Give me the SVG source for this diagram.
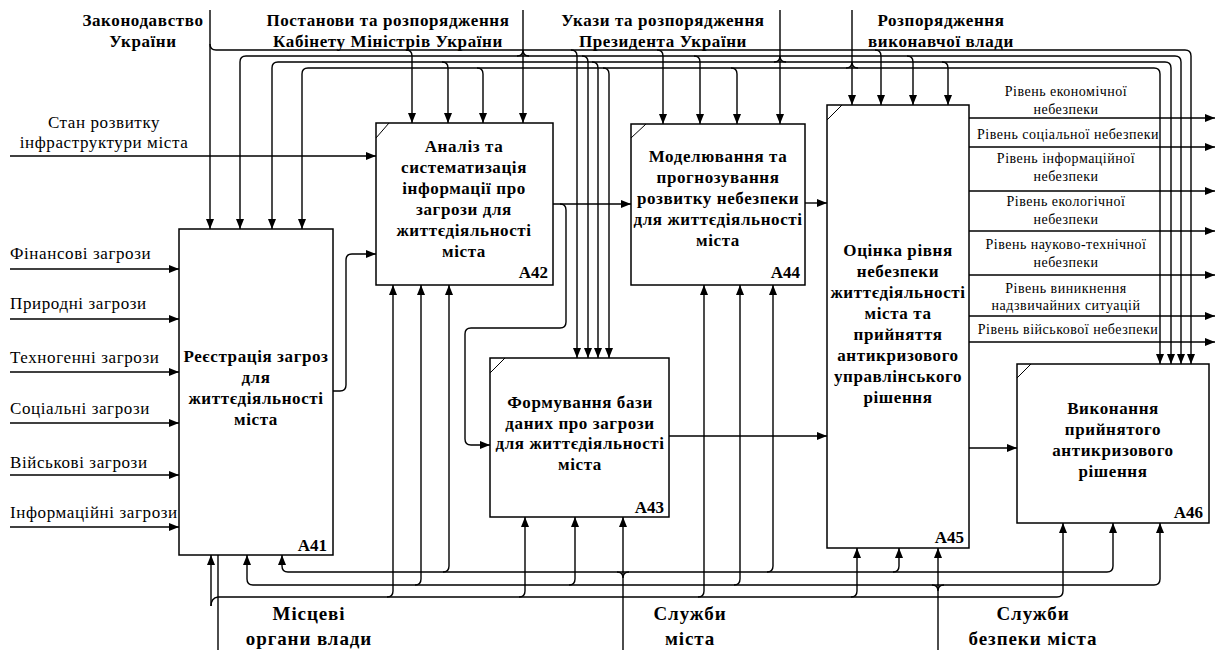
<svg xmlns="http://www.w3.org/2000/svg" width="1216" height="650" viewBox="0 0 1216 650">
  <defs>
    <marker id="ah" markerWidth="10" markerHeight="8" refX="10" refY="4" orient="auto" markerUnits="userSpaceOnUse">
      <path d="M0,0 L10,4 L0,8 z" fill="#000"/>
    </marker>
    <style>
      .box { fill: #fff; stroke: #000; stroke-width: 1.5; }
      .corner { stroke: #000; stroke-width: 1; fill: none; }
      .ln { fill: none; stroke: #000; stroke-width: 1.4; }
      .arr { fill: none; stroke: #000; stroke-width: 1.4; marker-end: url(#ah); }
      .bt { font-family: "Liberation Serif", "Times New Roman", serif; font-weight: bold; font-size: 17px; letter-spacing: 0.6px; fill: #000; text-anchor: middle; }
      .ctl { font-family: "Liberation Serif", "Times New Roman", serif; font-weight: bold; font-size: 17px; letter-spacing: 0.6px; fill: #000; text-anchor: middle; }
      .mech { font-family: "Liberation Serif", "Times New Roman", serif; font-weight: bold; font-size: 19px; letter-spacing: 0.9px; fill: #000; text-anchor: middle; }
      .in { font-family: "Liberation Serif", "Times New Roman", serif; font-size: 17px; letter-spacing: 0.6px; fill: #000; }
      .out { font-family: "Liberation Serif", "Times New Roman", serif; font-size: 14px; letter-spacing: 0.5px; fill: #000; text-anchor: middle; }
      .id { font-family: "Liberation Serif", "Times New Roman", serif; font-weight: bold; font-size: 17px; fill: #000; text-anchor: end; }
    </style>
  </defs>

  <rect width="1216" height="650" fill="#fff"/>

  <!-- connectors -->
  <g id="connectors">
    <!-- control: Законодавство України -->
    <path class="arr" d="M210,10 V229"/>
    <path class="arr" d="M210,44 Q210,50 216,50 H1185 Q1191,50 1191,56 V364"/>
    <path class="arr" d="M406,50 Q412,50 412,56 V123"/>
    <path class="arr" d="M571,50 Q577,50 577,56 V358"/>
    <path class="arr" d="M657,50 Q663,50 663,56 V124"/>
    <path class="arr" d="M875,50 Q881,50 881,56 V105"/>

    <!-- control: Постанови та розпорядження КМУ -->
    <path class="arr" d="M523,10 V123"/>
    <path class="ln" d="M517,56 Q523,56 523,50 M529,56 Q523,56 523,50"/>
    <path class="arr" d="M246,56 Q240,56 240,62 V229"/>
    <path class="arr" d="M246,56 H1175 Q1181,56 1181,62 V364"/>
    <path class="arr" d="M582,56 Q588,56 588,62 V358"/>
    <path class="arr" d="M694,56 Q700,56 700,62 V124"/>
    <path class="arr" d="M907,56 Q913,56 913,62 V105"/>

    <!-- control: Укази та розпорядження Президента -->
    <path class="arr" d="M780,10 V124"/>
    <path class="ln" d="M774,62 Q780,62 780,56 M786,62 Q780,62 780,56"/>
    <path class="arr" d="M278,62 Q272,62 272,68 V229"/>
    <path class="arr" d="M278,62 H1165 Q1171,62 1171,68 V364"/>
    <path class="arr" d="M442,62 Q448,62 448,68 V123"/>
    <path class="arr" d="M592,62 Q598,62 598,68 V358"/>
    <path class="arr" d="M942,62 Q948,62 948,68 V105"/>

    <!-- control: Розпорядження виконавчої влади -->
    <path class="arr" d="M852,10 V105"/>
    <path class="ln" d="M846,68 Q852,68 852,62 M858,68 Q852,68 852,62"/>
    <path class="arr" d="M308,68 Q302,68 302,74 V229"/>
    <path class="arr" d="M308,68 H1154 Q1160,68 1160,74 V364"/>
    <path class="arr" d="M477,68 Q483,68 483,74 V123"/>
    <path class="arr" d="M603,68 Q609,68 609,74 V358"/>
    <path class="arr" d="M731,68 Q737,68 737,74 V124"/>

    <!-- inputs -->
    <path class="arr" d="M10,156 H376"/>
    <path class="arr" d="M10,269 H179"/>
    <path class="arr" d="M10,319 H179"/>
    <path class="arr" d="M10,372 H179"/>
    <path class="arr" d="M10,423 H179"/>
    <path class="arr" d="M10,475 H179"/>
    <path class="arr" d="M10,527 H179"/>

    <!-- flows between activities -->
    <path class="arr" d="M333,391 H340 Q346,391 346,385 V260 Q346,254 352,254 H376"/>
    <path class="arr" d="M553,204 H631"/>
    <path class="arr" d="M560,204 Q566,204 566,210 V322 Q566,328 560,328 H471 Q465,328 465,334 V439 Q465,445 471,445 H490"/>
    <path class="arr" d="M805,203 H827"/>
    <path class="arr" d="M669,436 H827"/>
    <path class="arr" d="M969,448 H1017"/>

    <!-- outputs -->
    <path class="arr" d="M969,118 H1215"/>
    <path class="arr" d="M969,147 H1215"/>
    <path class="arr" d="M969,191 H1215"/>
    <path class="arr" d="M969,231 H1215"/>
    <path class="arr" d="M969,275 H1215"/>
    <path class="arr" d="M969,316 H1215"/>
    <path class="arr" d="M969,342 H1215"/>

    <!-- mechanism: Місцеві органи влади -->
    <path class="ln" d="M218,650 V555"/>
    <path class="ln" d="M218,597 Q211,598 211,606"/>
    <path class="arr" d="M211,606 V555"/>
    <path class="arr" d="M218,597 H1057 Q1063,597 1063,591 V523"/>
    <path class="arr" d="M387,597 Q393,597 393,591 V285"/>
    <path class="arr" d="M519,597 Q525,597 525,591 V517"/>
    <path class="arr" d="M698,597 Q704,597 704,591 V285"/>
    <path class="arr" d="M851,597 Q857,597 857,591 V548"/>

    <!-- mechanism: Служби міста -->
    <path class="arr" d="M623,650 V517"/>
    <path class="ln" d="M617,572 Q623,572 623,578 M629,572 Q623,572 623,578"/>
    <path class="arr" d="M288,572 Q282,572 282,566 V555"/>
    <path class="arr" d="M288,572 H1107 Q1113,572 1113,566 V523"/>
    <path class="arr" d="M443,572 Q449,572 449,566 V285"/>
    <path class="arr" d="M767,572 Q773,572 773,566 V285"/>
    <path class="arr" d="M893,572 Q899,572 899,566 V548"/>

    <!-- mechanism: Служби безпеки міста -->
    <path class="arr" d="M938,650 V548"/>
    <path class="ln" d="M932,585 Q938,585 938,591 M944,585 Q938,585 938,591"/>
    <path class="arr" d="M253,585 Q247,585 247,579 V555"/>
    <path class="arr" d="M253,585 H1154 Q1160,585 1160,579 V523"/>
    <path class="arr" d="M415,585 Q421,585 421,579 V285"/>
    <path class="arr" d="M569,585 Q575,585 575,579 V517"/>
    <path class="arr" d="M734,585 Q740,585 740,579 V285"/>
  </g>

  <!-- A41 -->
  <g id="A41">
    <rect class="box" x="179" y="229" width="154" height="326"/>
    <text class="bt" x="256" y="362">Реєстрація загроз</text>
    <text class="bt" x="256" y="383">для</text>
    <text class="bt" x="256" y="404">життєдіяльності</text>
    <text class="bt" x="256" y="425">міста</text>
    <text class="id" x="327" y="551">A41</text>
  </g>

  <!-- A42 -->
  <g id="A42">
    <rect class="box" x="376" y="123" width="177" height="162"/>
    <line class="corner" x1="376" y1="138" x2="389" y2="123"/>
    <text class="bt" x="464" y="152">Аналіз та</text>
    <text class="bt" x="464" y="173">систематизація</text>
    <text class="bt" x="464" y="194">інформації про</text>
    <text class="bt" x="464" y="215">загрози для</text>
    <text class="bt" x="464" y="236">життєдіяльності</text>
    <text class="bt" x="464" y="257">міста</text>
    <text class="id" x="548" y="278">A42</text>
  </g>

  <!-- A43 -->
  <g id="A43">
    <rect class="box" x="490" y="358" width="179" height="159"/>
    <line class="corner" x1="490" y1="373" x2="505" y2="358"/>
    <text class="bt" x="580" y="408">Формування бази</text>
    <text class="bt" x="580" y="429">даних про загрози</text>
    <text class="bt" x="580" y="449">для життєдіяльності</text>
    <text class="bt" x="580" y="470">міста</text>
    <text class="id" x="664" y="513">A43</text>
  </g>

  <!-- A44 -->
  <g id="A44">
    <rect class="box" x="631" y="124" width="174" height="161"/>
    <line class="corner" x1="631" y1="138" x2="646" y2="124"/>
    <text class="bt" x="718" y="162">Моделювання та</text>
    <text class="bt" x="718" y="183">прогнозування</text>
    <text class="bt" x="718" y="204">розвитку небезпеки</text>
    <text class="bt" x="718" y="225">для життєдіяльності</text>
    <text class="bt" x="718" y="246">міста</text>
    <text class="id" x="800" y="278">A44</text>
  </g>

  <!-- A45 -->
  <g id="A45">
    <rect class="box" x="827" y="105" width="142" height="443"/>
    <line class="corner" x1="827" y1="120" x2="842" y2="105"/>
    <text class="bt" x="898" y="256">Оцінка рівня</text>
    <text class="bt" x="898" y="277">небезпеки</text>
    <text class="bt" x="898" y="298">життєдіяльності</text>
    <text class="bt" x="898" y="319">міста та</text>
    <text class="bt" x="898" y="340">прийняття</text>
    <text class="bt" x="898" y="361">антикризового</text>
    <text class="bt" x="898" y="382">управлінського</text>
    <text class="bt" x="898" y="403">рішення</text>
    <text class="id" x="964" y="543">A45</text>
  </g>

  <!-- A46 -->
  <g id="A46">
    <rect class="box" x="1017" y="364" width="192" height="159"/>
    <line class="corner" x1="1017" y1="378" x2="1031" y2="364"/>
    <text class="bt" x="1113" y="414">Виконання</text>
    <text class="bt" x="1113" y="435">прийнятого</text>
    <text class="bt" x="1113" y="456">антикризового</text>
    <text class="bt" x="1113" y="477">рішення</text>
    <text class="id" x="1203" y="518">A46</text>
  </g>

  <!-- control labels -->
  <g id="controls">
    <text class="ctl" x="143" y="26">Законодавство</text>
    <text class="ctl" x="143" y="47">України</text>
    <text class="ctl" x="388" y="26">Постанови та розпорядження</text>
    <text class="ctl" x="388" y="47">Кабінету Міністрів України</text>
    <text class="ctl" x="663" y="26">Укази та розпорядження</text>
    <text class="ctl" x="663" y="47">Президента України</text>
    <text class="ctl" x="941" y="26">Розпорядження</text>
    <text class="ctl" x="941" y="47">виконавчої влади</text>
  </g>

  <!-- input labels -->
  <g id="inputs">
    <text class="in" x="104" y="128" text-anchor="middle">Стан розвитку</text>
    <text class="in" x="104" y="148" text-anchor="middle">інфраструктури міста</text>
    <text class="in" x="10" y="259">Фінансові загрози</text>
    <text class="in" x="10" y="309">Природні загрози</text>
    <text class="in" x="10" y="363">Техногенні загрози</text>
    <text class="in" x="10" y="414">Соціальні загрози</text>
    <text class="in" x="10" y="468">Військові загрози</text>
    <text class="in" x="10" y="518">Інформаційні загрози</text>
  </g>

  <!-- output labels -->
  <g id="outputs">
    <text class="out" x="1066" y="96">Рівень економічної</text>
    <text class="out" x="1066" y="114">небезпеки</text>
    <text class="out" x="1068" y="139">Рівень соціальної небезпеки</text>
    <text class="out" x="1066" y="163">Рівень інформаційної</text>
    <text class="out" x="1066" y="181">небезпеки</text>
    <text class="out" x="1066" y="206">Рівень екологічної</text>
    <text class="out" x="1066" y="224">небезпеки</text>
    <text class="out" x="1066" y="249">Рівень науково-технічної</text>
    <text class="out" x="1066" y="267">небезпеки</text>
    <text class="out" x="1066" y="293">Рівень виникнення</text>
    <text class="out" x="1066" y="310">надзвичайних ситуацій</text>
    <text class="out" x="1068" y="334">Рівень військової небезпеки</text>
  </g>

  <!-- mechanism labels -->
  <g id="mechanisms">
    <text class="mech" x="309" y="620">Місцеві</text>
    <text class="mech" x="309" y="645">органи влади</text>
    <text class="mech" x="690" y="620">Служби</text>
    <text class="mech" x="690" y="645">міста</text>
    <text class="mech" x="1033" y="620">Служби</text>
    <text class="mech" x="1033" y="645">безпеки міста</text>
  </g>
</svg>
